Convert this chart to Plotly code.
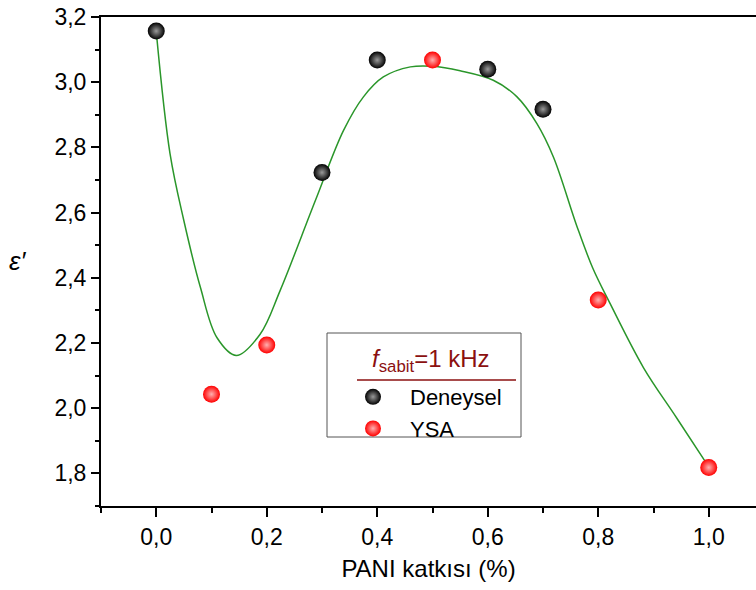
import plotly.graph_objects as go

# Measured points
deneysel_x = [0.0, 0.3, 0.4, 0.6, 0.7]
deneysel_y = [3.157, 2.723, 3.068, 3.040, 2.917]

ysa_x = [0.1, 0.2, 0.5, 0.8, 1.0]
ysa_y = [2.043, 2.194, 3.068, 2.332, 1.818]

# Smooth fitted curve, sampled along its path
fit_x = [0.0, 0.025, 0.05, 0.08, 0.11, 0.145, 0.188, 0.224, 0.288, 0.339,
         0.375, 0.411, 0.46, 0.50, 0.55, 0.61, 0.653, 0.689, 0.719, 0.761,
         0.79, 0.822, 0.882, 0.942, 1.0]
fit_y = [3.155, 2.78, 2.575, 2.37, 2.216, 2.162, 2.227, 2.36, 2.637, 2.852,
         2.955, 3.016, 3.047, 3.049, 3.035, 3.006, 2.955, 2.873, 2.77, 2.56,
         2.43, 2.319, 2.124, 1.97, 1.82]

x_ticks = [0.0, 0.2, 0.4, 0.6, 0.8, 1.0]
y_ticks = [1.8, 2.0, 2.2, 2.4, 2.6, 2.8, 3.0, 3.2]

FONT = "Liberation Sans, Arial, sans-serif"
W, H = 756, 590
L, R, T, B = 101, 0, 17, 84
TITLE_RED = "#8b1010"

fig = go.Figure()

fig.add_trace(go.Scatter(
    x=fit_x, y=fit_y, mode="lines", line=dict(color="#2a962a", width=1.5, shape="spline", smoothing=1.0),
    showlegend=False, hoverinfo="skip"))

fig.add_trace(go.Scatter(
    x=deneysel_x, y=deneysel_y, mode="markers", name="Deneysel",
    marker=dict(size=17, color="#000000", line=dict(width=0),
                gradient=dict(type="radial", color="#9a9a9a"))))

fig.add_trace(go.Scatter(
    x=ysa_x, y=ysa_y, mode="markers", name="YSA",
    marker=dict(size=17, color="#ff0000", line=dict(width=0),
                gradient=dict(type="radial", color="#ffb0b0"))))

pw = W - L - R
ph = H - T - B

def px_x(p):
    return (p - L) / pw

def px_y(p):
    return (H - B - p) / ph

fig.update_layout(
    width=W, height=H,
    margin=dict(l=L, r=R, t=T, b=B, pad=0),
    paper_bgcolor="white", plot_bgcolor="white",
    separators=", ",
    font=dict(family=FONT, size=23, color="black"),
    showlegend=True,
    legend=dict(
        x=px_x(336), y=px_y(376), xanchor="left", yanchor="top",
        bgcolor="rgba(0,0,0,0)", borderwidth=0,
        font=dict(family=FONT, size=22, color="black"),
        itemsizing="trace", itemwidth=64,
    ),
    xaxis=dict(
        range=[-0.1, -0.1 + pw / 552.5], tickvals=x_ticks, tickformat=".1f",
        showline=True, linecolor="black", linewidth=2, mirror=True,
        ticks="outside", ticklen=9, tickwidth=2, tickcolor="black",
        minor=dict(dtick=0.1, tick0=-0.1, ticks="outside", ticklen=5, tickwidth=2, tickcolor="black"),
        showgrid=False, zeroline=False,
        title=dict(text="PANI katkısı (%)", font=dict(family=FONT, size=24), standoff=12),
    ),
    yaxis=dict(
        range=[1.7, 3.2], tickvals=y_ticks, tickformat=".1f",
        showline=True, linecolor="black", linewidth=2, mirror=False,
        ticks="outside", ticklen=8, tickwidth=2, tickcolor="black",
        minor=dict(dtick=0.1, tick0=1.7, ticks="outside", ticklen=4, tickwidth=2, tickcolor="black"),
        showgrid=False, zeroline=False,
    ),
    shapes=[
        dict(type="rect", xref="paper", yref="paper",
             x0=px_x(327), x1=px_x(521), y0=px_y(437), y1=px_y(333),
             line=dict(color="#555555", width=1), fillcolor="rgba(0,0,0,0)", layer="below"),
        dict(type="line", xref="paper", yref="paper",
             x0=px_x(357), x1=px_x(516), y0=px_y(380), y1=px_y(380),
             line=dict(color=TITLE_RED, width=1.5)),
    ],
    annotations=[
        dict(text="<i>ε′</i>", xref="paper", yref="paper", x=-(L - 17) / pw,
             y=px_y(261), xanchor="center", yanchor="middle", showarrow=False,
             font=dict(family=FONT, size=26, color="black")),
        dict(text="<i>f</i><sub>sabit</sub>=1 kHz", xref="paper", yref="paper",
             x=px_x(431), y=px_y(360), xanchor="center", yanchor="middle", showarrow=False,
             font=dict(family=FONT, size=24, color=TITLE_RED)),
    ],
)

fig.write_html("out.html")
